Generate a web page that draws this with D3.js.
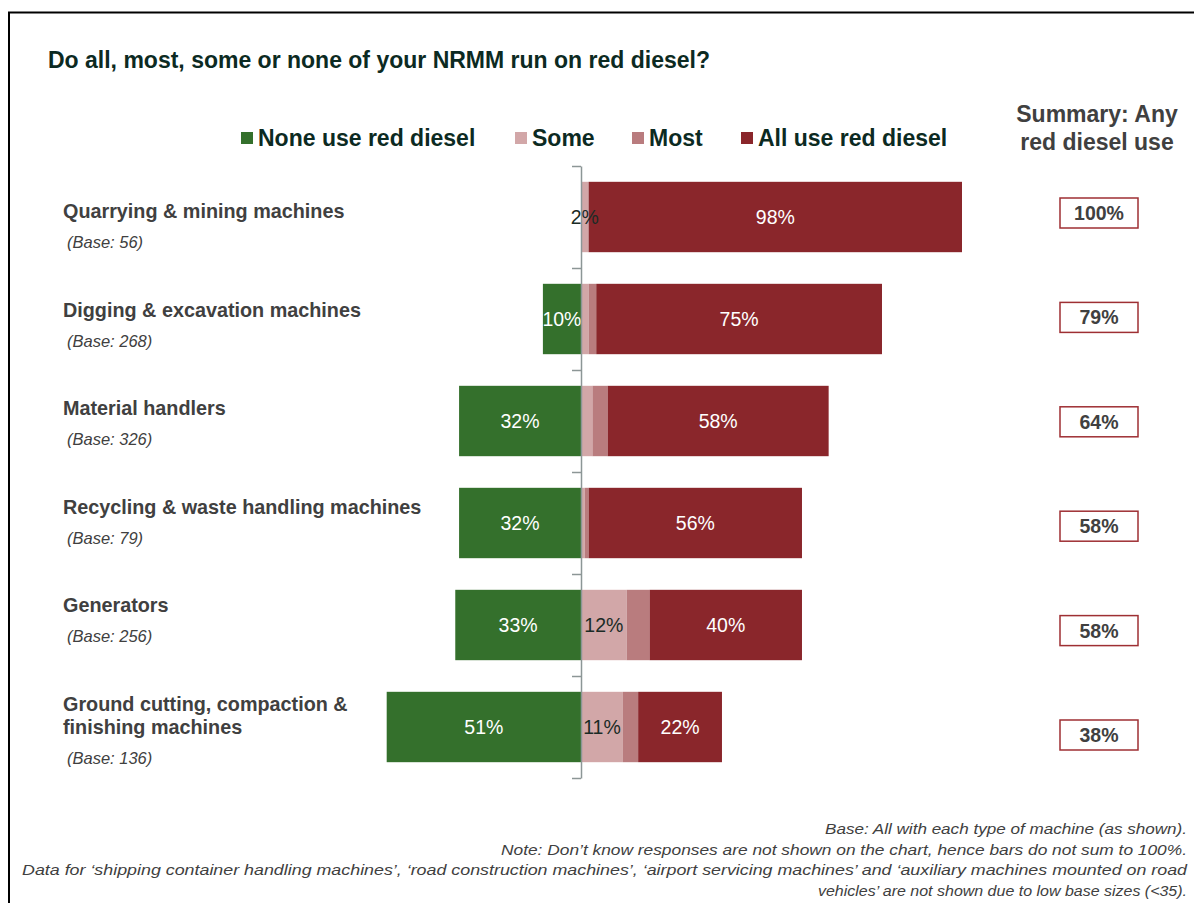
<!DOCTYPE html>
<html>
<head>
<meta charset="utf-8">
<script src="https://cdn.jsdelivr.net/npm/d3@7"></script>
<style>
  body { margin: 0; background: #fff; }
  text { font-family: "Liberation Sans", Arial, sans-serif; }
</style>
</head>
<body>
<script>
// data
var categories = [
  ['Quarrying & mining machines'],
  ['Digging & excavation machines'],
  ['Material handlers'],
  ['Recycling & waste handling machines'],
  ['Generators'],
  ['Ground cutting, compaction &', 'finishing machines']
];
var bases = [56, 268, 326, 79, 256, 136];
var noneUse = [0, 10, 32, 32, 33, 51];
var someUse = [2, 2, 3, 1, 12, 11];
var mostUse = [0, 2, 4, 1, 6, 4];
var allUse = [98, 75, 58, 56, 40, 22];
var someLabels = ['2%', '', '', '', '12%', '11%'];
var anyUse = [100, 79, 64, 58, 58, 38];
var legendNames = ['None use red diesel', 'Some', 'Most', 'All use red diesel'];
var notes = [
  'Base: All with each type of machine (as shown).',
  'Note: Don\u2019t know responses are not shown on the chart, hence bars do not sum to 100%.',
  'Data for \u2018shipping container handling machines\u2019, \u2018road construction machines\u2019, \u2018airport servicing machines\u2019 and \u2018auxiliary machines mounted on road',
  'vehicles\u2019 are not shown due to low base sizes (<35).'
];

var width = 1194;
var height = 903;
var colors = ['#34702c', '#d2a7a8', '#b97c7e', '#8a262b'];
var darkText = '#0c2a22';
var grey = '#404040';

var svg = d3.select('body')
  .append('svg')
  .attr('width', width)
  .attr('height', height);

// frame
svg.append('rect')
  .attr('x', 9).attr('y', 12.5)
  .attr('width', 1300).attr('height', 1000)
  .attr('fill', 'none')
  .attr('stroke', '#000')
  .attr('stroke-width', 2);

// title
svg.append('text')
  .attr('x', 48).attr('y', 68)
  .attr('font-size', 23).attr('font-weight', 'bold')
  .attr('fill', darkText)
  .text('Do all, most, some or none of your NRMM run on red diesel?');

// legend
var legendX = [241, 515, 632, 741];
var legend = svg.selectAll('.legend')
  .data(legendNames)
  .enter().append('g')
  .attr('class', 'legend')
  .attr('transform', function(d, i) { return 'translate(' + legendX[i] + ',132)'; });
legend.append('rect')
  .attr('width', 12).attr('height', 12)
  .attr('fill', function(d, i) { return colors[i]; });
legend.append('text')
  .attr('x', 17).attr('y', 14)
  .attr('font-size', 23).attr('font-weight', 'bold')
  .attr('fill', darkText)
  .text(function(d) { return d; });

// scales
var idx = d3.range(categories.length);
var x = d3.scaleLinear().domain([0, 100]).range([581, 962]);
var y = d3.scaleBand().domain(idx).range([166, 778]).paddingInner(0.31).paddingOuter(0.155);

// rows of segments
var rows = idx.map(function(i) {
  var s0 = 0, s1 = someUse[i], s2 = s1 + mostUse[i], s3 = s2 + allUse[i];
  return [
    {row: i, k: 0, x0: -noneUse[i], x1: 0, v: noneUse[i], label: noneUse[i] ? noneUse[i] + '%' : ''},
    {row: i, k: 1, x0: s0, x1: s1, v: someUse[i], label: someLabels[i]},
    {row: i, k: 2, x0: s1, x1: s2, v: mostUse[i], label: ''},
    {row: i, k: 3, x0: s2, x1: s3, v: allUse[i], label: allUse[i] + '%'}
  ];
});
var segs = [].concat.apply([], rows);

svg.append('g').selectAll('rect')
  .data(segs.filter(function(d) { return d.v > 0; }))
  .enter().append('rect')
  .attr('x', function(d) { return x(d.x0); })
  .attr('width', function(d) { return x(d.x1) - x(d.x0); })
  .attr('y', function(d) { return y(d.row); })
  .attr('height', y.bandwidth())
  .attr('fill', function(d) { return colors[d.k]; });

svg.append('g').selectAll('text')
  .data(segs.filter(function(d) { return d.label; }))
  .enter().append('text')
  .attr('x', function(d) { return (x(d.x0) + x(d.x1)) / 2; })
  .attr('y', function(d) { return y(d.row) + y.bandwidth() / 2 + 7; })
  .attr('text-anchor', 'middle')
  .attr('font-size', 19.5)
  .attr('fill', function(d) { return d.k === 1 ? '#1a2b26' : '#fff'; })
  .text(function(d) { return d.label; });

// axis with ticks between categories
var tickScale = d3.scaleLinear().domain([0, categories.length]).range([166, 778]);
var axis = svg.append('g')
  .attr('transform', 'translate(581,0)')
  .call(d3.axisLeft(tickScale).tickValues(d3.range(categories.length + 1)).tickSize(9).tickSizeOuter(0).tickFormat(''));
axis.selectAll('path, line').attr('stroke', '#8c9696').attr('stroke-width', 1.5);

// category labels
var labelY = d3.scaleLinear().domain([0, 1]).range([218, 316.6]);
var catG = svg.append('g').selectAll('g')
  .data(idx)
  .enter().append('g');
catG.each(function(i) {
  var g = d3.select(this);
  categories[i].forEach(function(line, j) {
    g.append('text')
      .attr('x', 63).attr('y', labelY(i) + j * 23)
      .attr('font-size', 19.8).attr('font-weight', 'bold')
      .attr('fill', grey)
      .text(line);
  });
  g.append('text')
    .attr('x', 67).attr('y', labelY(i) + 30 + (categories[i].length - 1) * 23)
    .attr('font-size', 16.5).attr('font-style', 'italic')
    .attr('fill', grey)
    .text('(Base: ' + bases[i] + ')');
});

// summary column
svg.append('text')
  .attr('x', 1097).attr('y', 122)
  .attr('text-anchor', 'middle')
  .attr('font-size', 23).attr('font-weight', 'bold')
  .attr('fill', grey)
  .selectAll('tspan')
  .data(['Summary: Any', 'red diesel use'])
  .enter().append('tspan')
  .attr('x', 1097)
  .attr('dy', function(d, i) { return i ? 28 : 0; })
  .text(function(d) { return d; });

var boxY = d3.scaleLinear().domain([0, 1]).range([213, 317.4]);
var box = svg.append('g').selectAll('g')
  .data(anyUse)
  .enter().append('g')
  .attr('transform', function(d, i) { return 'translate(1099,' + boxY(i) + ')'; });
box.append('rect')
  .attr('x', -39).attr('y', -15)
  .attr('width', 78).attr('height', 30)
  .attr('fill', '#fff')
  .attr('stroke', '#9e2f33')
  .attr('stroke-width', 1.5);
box.append('text')
  .attr('y', 7)
  .attr('text-anchor', 'middle')
  .attr('font-size', 19.5).attr('font-weight', 'bold')
  .attr('fill', grey)
  .text(function(d) { return d + '%'; });

// footnotes
var noteWidths = [362, 686, 1165, 369];
svg.append('g').selectAll('text')
  .data(notes)
  .enter().append('text')
  .attr('x', 1187)
  .attr('y', function(d, i) { return 834 + i * 20.7; })
  .attr('text-anchor', 'end')
  .attr('font-size', 15).attr('font-style', 'italic')
  .attr('fill', grey)
  .style('font-family', '"Liberation Sans Narrow", "Arial Narrow", "Liberation Sans", sans-serif')
  .attr('textLength', function(d, i) { return noteWidths[i]; })
  .attr('lengthAdjust', 'spacingAndGlyphs')
  .text(function(d) { return d; });
</script>
</body>
</html>
